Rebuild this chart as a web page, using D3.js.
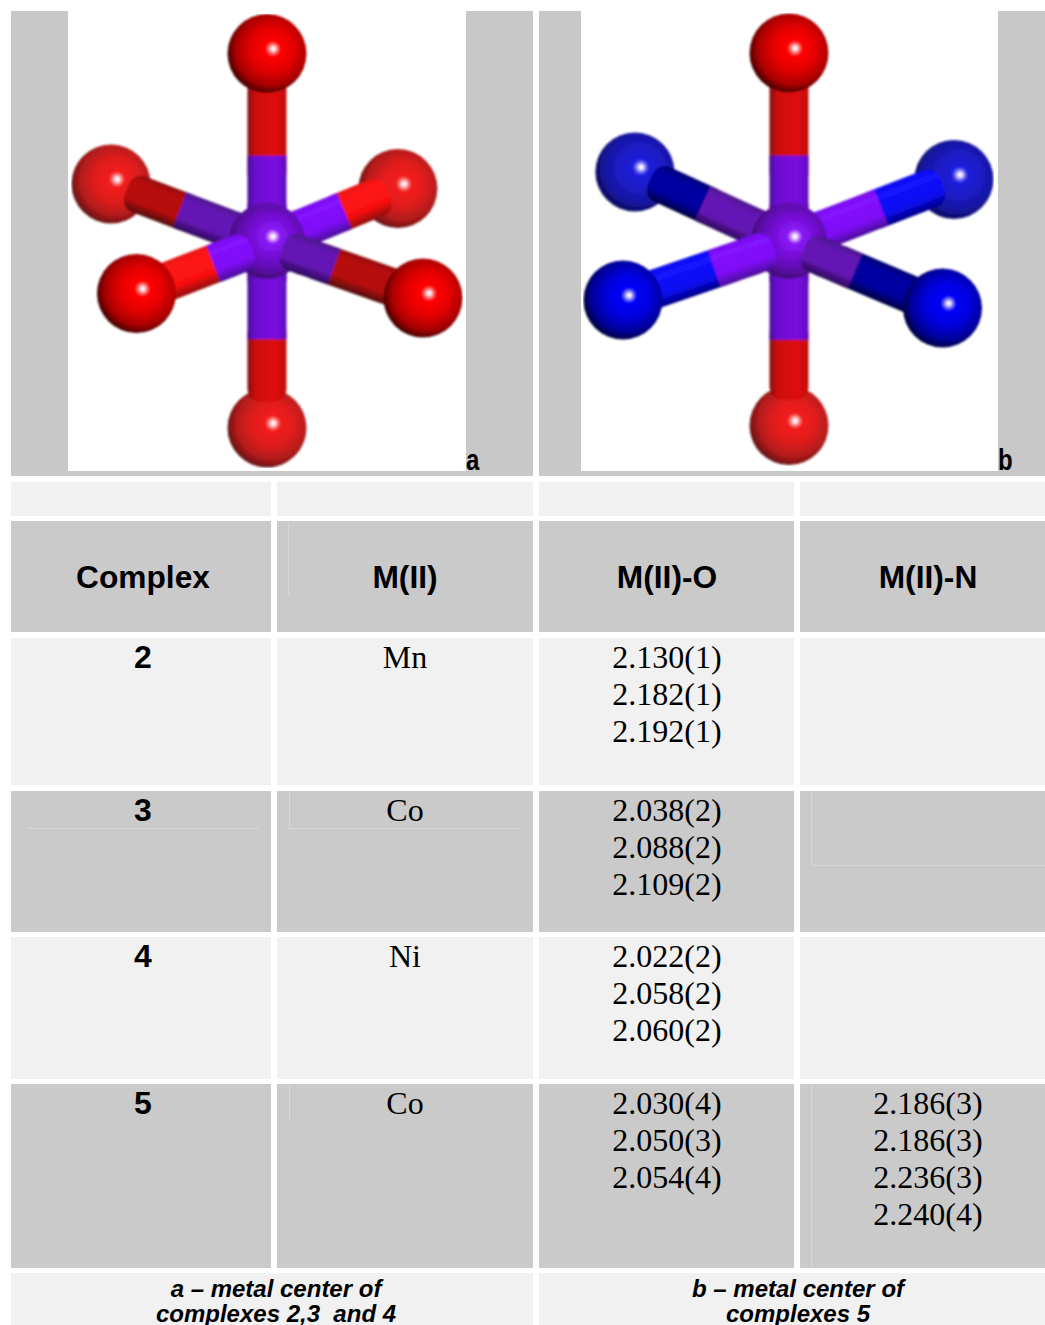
<!DOCTYPE html>
<html>
<head>
<meta charset="utf-8">
<style>
  body { margin: 0; background: #fff; }
  svg { display: block; }
  text { white-space: pre; fill: #000; }
  .sans { font-family: "Liberation Sans", Arial, sans-serif; font-weight: bold; }
  .serif { font-family: "Liberation Serif", "Times New Roman", serif; }
</style>
<script src="https://cdnjs.cloudflare.com/ajax/libs/d3/7.8.5/d3.min.js"></script>
</head>
<body>
<section></section>
<script>
// table values
const columns = ['Complex', 'M(II)', 'M(II)-O', 'M(II)-N'];
const complexes = ['2', '3', '4', '5'];
const metals = ['Mn', 'Co', 'Ni', 'Co'];
const bondsO = [
  ['2.130(1)', '2.182(1)', '2.192(1)'],
  ['2.038(2)', '2.088(2)', '2.109(2)'],
  ['2.022(2)', '2.058(2)', '2.060(2)'],
  ['2.030(4)', '2.050(3)', '2.054(4)']
];
const bondsN = [
  [],
  [],
  [],
  ['2.186(3)', '2.186(3)', '2.236(3)', '2.240(4)']
];
const captions = [
  ['a \u2013 metal center of', 'complexes 2,3  and 4'],
  ['b \u2013 metal center of', 'complexes 5']
];

// the two ball and stick pictures, in units of the M-O axial distance
const ligandNames = ['top', 'upLeft', 'upRight', 'lowLeft', 'lowRight', 'bottom'];
const atomXa = [0, -0.834, 0.700, -0.698, 0.834, 0];
const atomYa = [1.013, 0.316, 0.291, -0.270, -0.294, -0.989];
const atomXb = [0, -0.824, 0.882, -0.888, 0.821, 0];
const atomYb = [1.016, 0.380, 0.340, -0.305, -0.348, -0.976];
const elementsA = ['O', 'O', 'O', 'O', 'O', 'O'];
const elementsB = ['O', 'N', 'N', 'N', 'N', 'O'];
const splitA = [0.46, 0.56, 0.59, 0.41, 0.43, 0.52];
const splitB = [0.46, 0.56, 0.56, 0.45, 0.43, 0.53];
const stickEnd = [1, 0.90, 0.93, 1, 1, 0.86];
const tone = ['mid', 'dark', 'bright', 'bright', 'dark', 'mid'];

const svg = d3.select('section')
  .append('svg')
  .attr('width', 1045)
  .attr('height', 1325);

const defs = svg.append('defs');

const grey = '#cacaca';
const light = '#f1f1f1';

defs.append('filter').attr('id', 'soft')
  .attr('x', 0).attr('y', 0).attr('width', 1).attr('height', 1)
  .append('feGaussianBlur').attr('stdDeviation', 0.8);

// sphere shading: glint tint, body, shoulder, rim
const ballColors = {
  Ofront: ['#ff8080', '#ff0000', '#e40404', '#a80000', '#200000'],
  Oback: ['#ff9090', '#f21e1e', '#e01c1c', '#b01a1a', '#481010'],
  Nfront: ['#8080ff', '#0000f8', '#0000e0', '#000098', '#00001c'],
  Nback: ['#9090ff', '#2020dc', '#1c1cc4', '#14149c', '#0c0c48'],
  M: ['#d090ff', '#8a14f8', '#7410d4', '#5a0ca4', '#341058']
};
Object.keys(ballColors).forEach(key => {
  const c = ballColors[key];
  const g = defs.append('radialGradient')
    .attr('id', 'ball' + key)
    .attr('cx', 0.55).attr('cy', 0.45).attr('r', 0.6)
    .attr('fx', 0.58).attr('fy', 0.44);
  [[0, '#ffffff'], [0.035, '#fff4f8'], [0.085, c[0]], [0.16, c[1]], [0.46, c[2]], [0.76, c[3]], [1, c[4]]]
    .forEach(s => g.append('stop').attr('offset', s[0]).attr('stop-color', s[1]));
});

// stick shading, across the stick
const stickColors = {
  Odark: ['#901010', '#b81010', '#b81010', '#500808'],
  Omid: ['#8a0a0a', '#cc1010', '#e01010', '#c01010'],
  Obright: ['#e81010', '#ff1818', '#f81010', '#900808'],
  Ndark: ['#000070', '#0000a0', '#0000a0', '#000040'],
  Nbright: ['#0808f0', '#1414ff', '#0a0af0', '#000080'],
  Mdark: ['#4c1488', '#6414b4', '#6414b4', '#2c0c58'],
  Mmid: ['#4a0ca0', '#6c10d0', '#7a10e0', '#6010c0'],
  Mbright: ['#7810ec', '#8412ff', '#7e10f4', '#4a0c98']
};
Object.keys(stickColors).forEach(key => {
  const c = stickColors[key];
  const g = defs.append('linearGradient')
    .attr('id', 'stick' + key)
    .attr('x1', 0).attr('y1', 0).attr('x2', 0).attr('y2', 1);
  [0, 0.2, 0.7, 1].forEach((o, i) => g.append('stop').attr('offset', o).attr('stop-color', c[i]));
});

const drawMolecule = (parent, xs, ys, elements, split, xrange) => {
  const xscale = d3.scaleLinear().domain([-1, 1]).range(xrange);
  const yscale = d3.scaleLinear().domain([-1, 1]).range([430, 56]);
  const cx = xscale(0);
  const cy = yscale(0);
  const atoms = ligandNames.map((name, i) => ({
    name: name, x: xscale(xs[i]), y: yscale(ys[i]), el: elements[i],
    split: split[i], end: stickEnd[i], tone: tone[i]
  }));
  const byName = n => atoms.find(a => a.name === n);

  const ball = (a, kind) => parent.append('circle')
    .attr('cx', a.x).attr('cy', a.y).attr('r', 39.5)
    .attr('fill', 'url(#ball' + kind + ')');

  // front sticks start on the face of the metal ball, the others behind it
  const stick = (a, start) => {
    const len = Math.hypot(a.x - cx, a.y - cy);
    const half = a.tone === 'dark' ? 19 : 19.5;
    // lit side of the gradient stays up, or right on the vertical sticks
    const flip = (a.x < cx || a.name === 'bottom') ? -1 : 1;
    const angle = Math.atan2(flip * (a.y - cy), flip * (a.x - cx)) * 180 / Math.PI;
    const g = parent.append('g')
      .attr('transform', 'translate(' + cx + ',' + cy + ') rotate(' + angle + ')');
    const lo = len * a.split;
    const hi = len * a.end;
    const capped = a.end < 1;
    const span = (p, q) => flip > 0 ? [p, q - p] : [-q, q - p];

    const lig = span(lo - half, hi);
    g.append('rect').attr('x', lig[0]).attr('y', -half)
      .attr('width', lig[1]).attr('height', half * 2)
      .attr('rx', capped ? half * 0.7 : 0)
      .attr('fill', 'url(#stick' + a.el + a.tone.replace('mid', a.el === 'N' ? 'bright' : 'mid') + ')');

    const metal = span(start + half, lo);
    g.append('rect').attr('x', metal[0]).attr('y', -half)
      .attr('width', metal[1]).attr('height', half * 2)
      .attr('fill', 'url(#stickM' + a.tone + ')');
    const tip = span(start, start + half * 2);
    g.append('rect').attr('x', tip[0]).attr('y', -half)
      .attr('width', tip[1]).attr('height', half * 2)
      .attr('rx', start > 0 ? half * 0.7 : 0)
      .attr('fill', 'url(#stickM' + a.tone + ')');
  };

  // back atoms first, their sticks lie over them
  ball(byName('upLeft'), byName('upLeft').el + 'back');
  ball(byName('upRight'), byName('upRight').el + 'back');
  ball(byName('bottom'), 'Oback');
  ['upLeft', 'upRight', 'top', 'bottom'].forEach(n => stick(byName(n), 0));
  parent.append('circle').attr('cx', cx).attr('cy', cy - 2).attr('r', 38).attr('fill', 'url(#ballM)');
  ['lowLeft', 'lowRight'].forEach(n => stick(byName(n), 16));
  ['lowLeft', 'lowRight'].forEach(n => ball(byName(n), byName(n).el + 'front'));
  ball(byName('top'), 'Ofront');
};

// picture panels
const panels = svg.append('g');
panels.append('rect').attr('x', 11).attr('y', 11).attr('width', 522).attr('height', 465).attr('fill', '#c8c8c8');
panels.append('rect').attr('x', 68).attr('y', 11).attr('width', 398).attr('height', 460).attr('fill', '#fff');
panels.append('rect').attr('x', 539).attr('y', 11).attr('width', 506).attr('height', 465).attr('fill', '#c8c8c8');
panels.append('rect').attr('x', 581).attr('y', 11).attr('width', 417).attr('height', 460).attr('fill', '#fff');

drawMolecule(svg.append('g').attr('filter', 'url(#soft)'), atomXa, atomYa, elementsA, splitA, [80, 454]);
drawMolecule(svg.append('g').attr('filter', 'url(#soft)'), atomXb, atomYb, elementsB, splitB, [602, 976]);

svg.append('text').attr('class', 'sans').attr('font-size', 24)
  .attr('transform', 'translate(466,470) scale(1,1.2)').text('a');
svg.append('text').attr('class', 'sans').attr('font-size', 24)
  .attr('transform', 'translate(998,470) scale(1,1.2)').text('b');

// table grid
const colLeft = d3.scaleOrdinal(d3.range(4), [11, 277, 539, 800]);
const colRight = d3.scaleOrdinal(d3.range(4), [271, 533, 794, 1045]);
const colMid = d3.scaleOrdinal(d3.range(4), [143, 405, 667, 928]);
const rowKeys = ['blank', 'head', '0', '1', '2', '3'];
const rowTop = d3.scaleOrdinal(rowKeys, [482, 521, 638, 791, 937, 1084]);
const rowBottom = d3.scaleOrdinal(rowKeys, [516, 632, 785, 932, 1079, 1268]);
const rowFill = d3.scaleOrdinal(rowKeys, [light, grey, light, grey, light, grey]);

const cells = d3.cross(rowKeys, d3.range(4), (r, c) => ({ r, c }));
svg.append('g').selectAll('rect')
  .data(cells)
  .enter()
  .append('rect')
  .attr('x', d => colLeft(d.c))
  .attr('y', d => rowTop(d.r))
  .attr('width', d => colRight(d.c) - colLeft(d.c))
  .attr('height', d => rowBottom(d.r) - rowTop(d.r))
  .attr('fill', d => rowFill(d.r));

// caption row
svg.append('g').selectAll('rect')
  .data(captions)
  .enter()
  .append('rect')
  .attr('x', (d, i) => colLeft(i * 2))
  .attr('y', 1273)
  .attr('width', (d, i) => colRight(i * 2 + 1) - colLeft(i * 2))
  .attr('height', 52)
  .attr('fill', light);

// faint scanner lines left inside some cells
const ghostLines = [
  'M288.5 483V509', 'M288.5 522V595', 'M288.5 639V674H505',
  'M27 828.5H259', 'M289.5 792V828.5H521', 'M811.5 792V865.5H1045',
  'M289.5 1085V1121', 'M811.5 1085V1268'
];
svg.append('g').selectAll('path')
  .data(ghostLines)
  .enter()
  .append('path')
  .attr('d', d => d)
  .attr('fill', 'none')
  .attr('stroke', '#ffffff')
  .attr('stroke-opacity', 0.25);

// header
svg.append('g').selectAll('text')
  .data(columns)
  .enter()
  .append('text')
  .attr('class', 'sans')
  .attr('text-anchor', 'middle')
  .attr('font-size', 31.7)
  .attr('x', (d, i) => colMid(i))
  .attr('y', 588)
  .text(d => d);

// rows
const lineGap = 36.9;
const rowCells = complexes.flatMap((c, i) => [
  { col: 0, row: i, lines: [c], cls: 'sans' },
  { col: 1, row: i, lines: [metals[i]], cls: 'serif' },
  { col: 2, row: i, lines: bondsO[i], cls: 'serif' },
  { col: 3, row: i, lines: bondsN[i], cls: 'serif' }
]);
svg.append('g').selectAll('g')
  .data(rowCells)
  .enter()
  .append('g')
  .selectAll('text')
  .data(d => d.lines.map((t, k) => ({ t, k, col: d.col, row: d.row, cls: d.cls })))
  .enter()
  .append('text')
  .attr('class', d => d.cls)
  .attr('text-anchor', 'middle')
  .attr('font-size', 32)
  .attr('x', d => colMid(d.col))
  .attr('y', d => rowTop(String(d.row)) + 30 + d.k * lineGap)
  .text(d => d.t);

// captions, the second line runs off the foot of the page as in the source
const captionMid = d3.scaleOrdinal([0, 1], [276, 798]);
captions.forEach((lines, i) => {
  svg.append('g').selectAll('text')
    .data(lines)
    .enter()
    .append('text')
    .attr('class', 'sans')
    .attr('font-style', 'italic')
    .attr('text-anchor', 'middle')
    .attr('font-size', 24)
    .attr('x', captionMid(i))
    .attr('y', (d, k) => 1297 + k * 25)
    .text(d => d);
});
</script>
</body>
</html>
